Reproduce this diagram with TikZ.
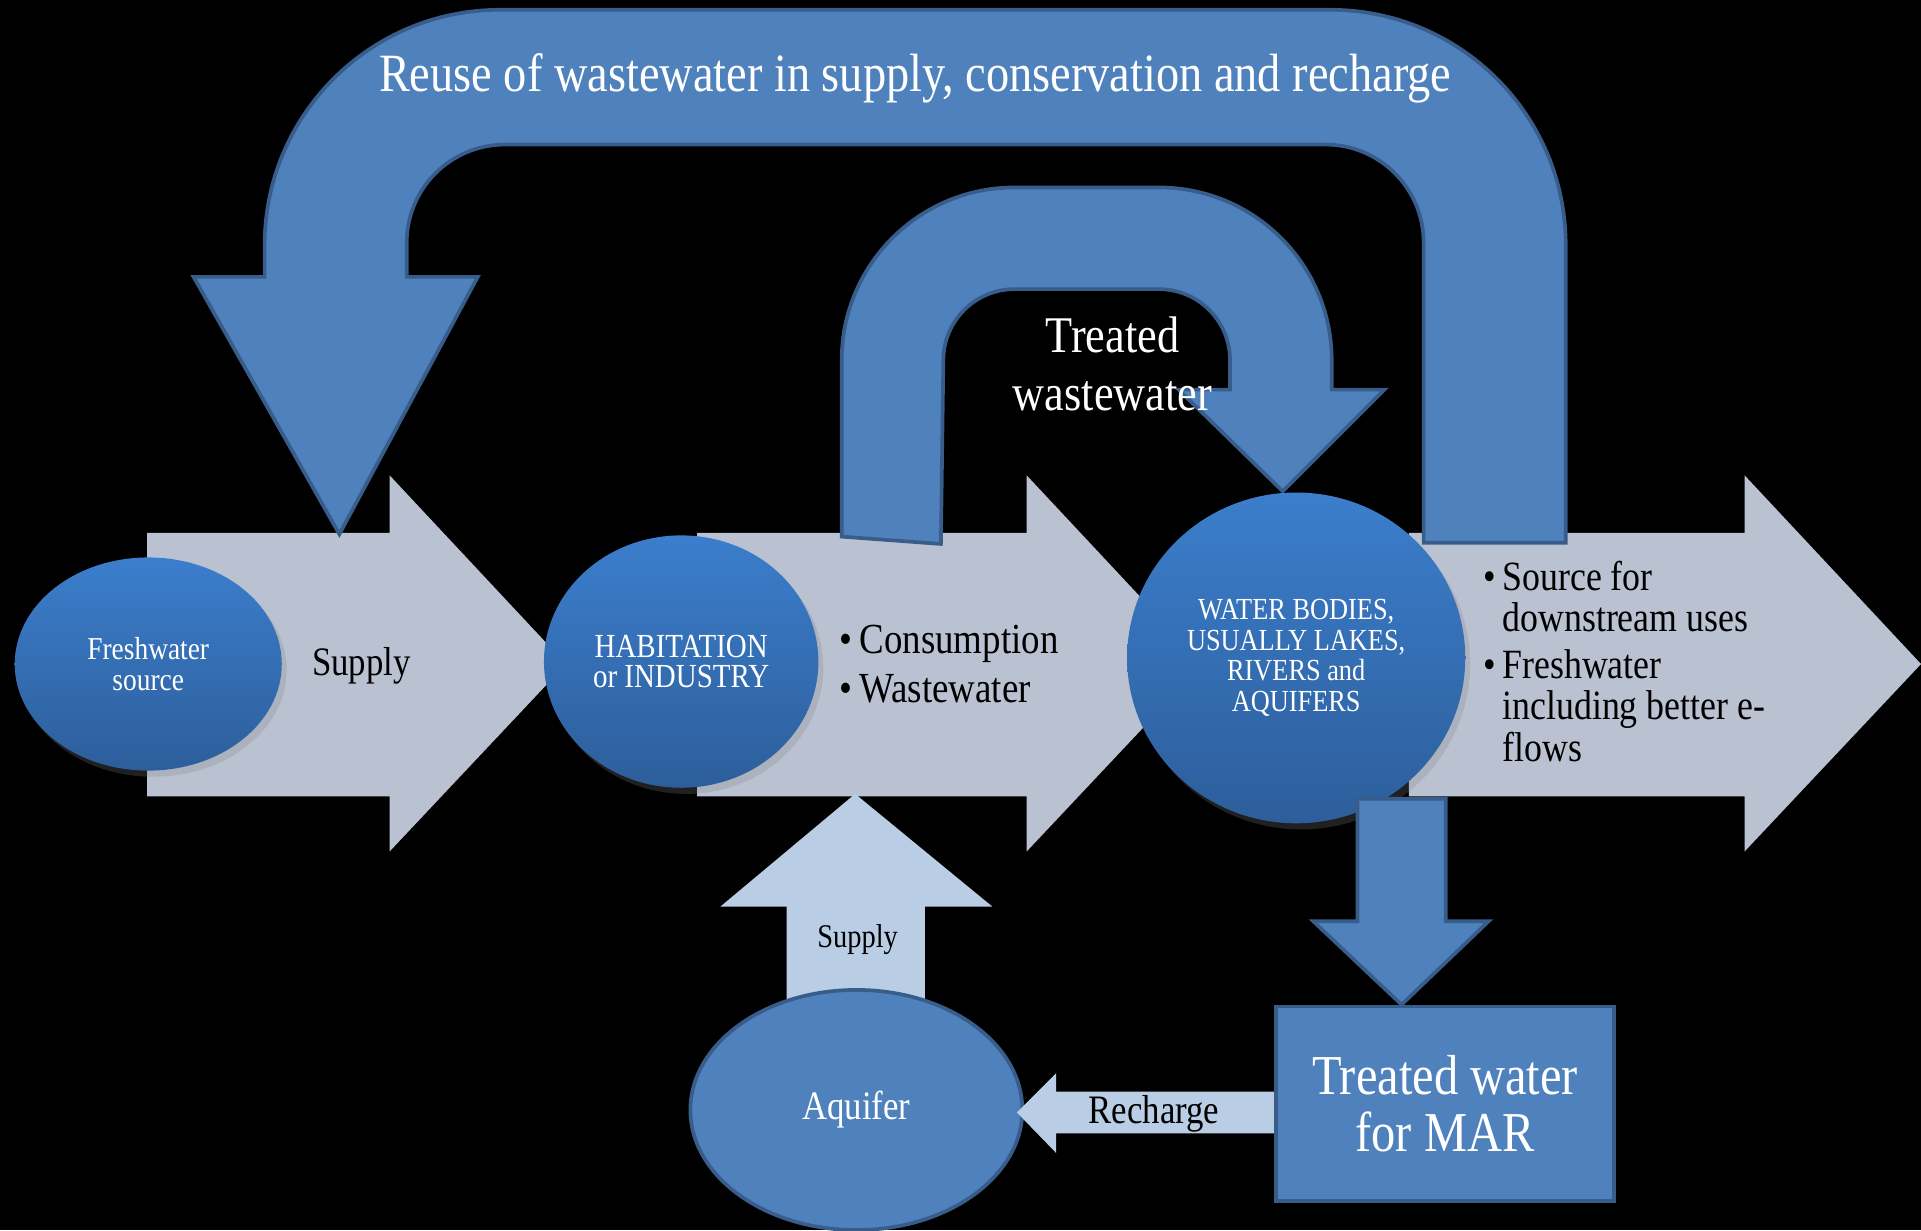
\documentclass[tikz,border=0pt]{standalone}
\usepackage{fontspec}
\setmainfont{Liberation Serif}[FakeStretch=0.86]
\usetikzlibrary{shapes.geometric, shadows}

\definecolor{flowgray}{RGB}{186,194,210}
\definecolor{arrowblue}{RGB}{79,129,189}
\definecolor{arrowedge}{RGB}{56,93,138}
\definecolor{paleblue}{RGB}{185,205,229}
\definecolor{bubtop}{RGB}{59,126,204}
\definecolor{bubbot}{RGB}{45,94,155}

\newcommand{\fs}[2]{\fontsize{#1}{#2}\selectfont}

\begin{document}
\begin{tikzpicture}[
    x=1pt, y=-1pt,
    flow/.style={fill=flowgray},
    bluearrow/.style={fill=arrowblue, draw=arrowedge, line width=3pt, line join=miter},
    palearrow/.style={fill=paleblue},
    bubble/.style={ellipse, inner sep=0pt, top color=bubtop, bottom color=bubbot, text=white, align=center,
        drop shadow={shadow xshift=4pt, shadow yshift=-5pt, opacity=0.25}},
    wlabel/.style={text=white, align=center},
    blabel/.style={text=black, align=center}
]
    % Background
    \fill[black] (0,0) rectangle (1568,1004);
    \useasboundingbox (0,0) rectangle (1568,1004);

    % Main flow arrows
    \fill[flow] (120,435) -- (318,435) -- (318,388) -- (462,542) -- (318,695) -- (318,650) -- (120,650) -- cycle;
    \fill[flow] (569,435) -- (838,435) -- (838,388) -- (982,542) -- (838,695) -- (838,650) -- (569,650) -- cycle;
    \fill[flow] (1150,435) -- (1424,435) -- (1424,388) -- (1568,542) -- (1424,695) -- (1424,650) -- (1150,650) -- cycle;

    % Reuse loop
    \draw[bluearrow] (1278,443) -- (1278,200) arc[start angle=0, end angle=-90, radius=192]
        -- (408,8) arc[start angle=-90, end angle=-180, radius=192]
        -- (216,226) -- (158,226) -- (277,436) -- (390,226) -- (332,226)
        -- (332,198) arc[start angle=180, end angle=270, radius=80]
        -- (1082,118) arc[start angle=270, end angle=360, radius=80]
        -- (1162,443) -- cycle;

    % Treated wastewater loop
    \draw[bluearrow] (687,438) -- (687,294) arc[start angle=180, end angle=270, radius=141]
        -- (946,153) arc[start angle=270, end angle=360, radius=141]
        -- (1087,318) -- (1130,318) -- (1047,401) -- (962,318) -- (1004,318)
        -- (1004,294) arc[start angle=0, end angle=-90, radius=58]
        -- (828,236) arc[start angle=-90, end angle=-180, radius=58]
        -- (768,444) -- cycle;

    % Supply from aquifer
    \fill[palearrow] (642,830) -- (642,740) -- (588,740) -- (698,648) -- (810,740) -- (755,740) -- (755,830) -- cycle;

    % Bubbles
    \node[bubble, minimum width=218pt, minimum height=174pt, font=\fs{26}{25}] (fresh) at (121,542) {Freshwater\\source};
    \node[bubble, minimum width=224pt, minimum height=206pt, font=\fs{27.5}{25}] (habit) at (556,540) {HABITATION\\or INDUSTRY};
    \node[bubble, minimum width=276pt, minimum height=270pt, font=\fs{25}{25}] (water) at (1058,537) {WATER BODIES,\\USUALLY LAKES,\\RIVERS and\\AQUIFERS};

    % Down to MAR
    \draw[bluearrow] (1108,652) -- (1180,652) -- (1180,752) -- (1215,752) -- (1144,820) -- (1072,752) -- (1108,752) -- cycle;

    % Aquifer and MAR
    \node[ellipse, fill=arrowblue, draw=arrowedge, line width=3pt, minimum width=271pt, minimum height=196pt,
        text=white, font=\fs{33}{36}] (aquifer) at (699,906) {Aquifer};
    \fill[palearrow] (1040,891) -- (862,891) -- (862,876) -- (830,908) -- (862,941) -- (862,925) -- (1040,925) -- cycle;
    \node[draw=arrowedge, fill=arrowblue, line width=3pt, minimum width=276pt, minimum height=159pt,
        text=white, align=center, font=\fs{46}{46}] (mar) at (1179.5,901) {Treated water\\for MAR};

    % Labels
    \node[wlabel, font=\fs{44}{44}, anchor=base] (reuse) at (747,75) {Reuse of wastewater in supply, conservation and recharge};
    \node[wlabel, font=\fs{42}{48}] (treated) at (908,297) {Treated\\wastewater};
    \node[blabel, font=\fs{33}{36}, anchor=base] (supplymain) at (295,551) {Supply};
    \node[blabel, font=\fs{27}{30}, anchor=base] (supplyaq) at (700,773) {Supply};
    \node[blabel, font=\fs{33}{36}, anchor=base] (recharge) at (942,917) {Recharge};
    \node[anchor=base west, inner sep=0pt, font=\fs{35}{40}] (uses) at (685,533)
        {\begin{tabular}[t]{@{}l@{\hspace{6pt}}l@{}}\textbullet & Consumption\\ \textbullet & Wastewater\end{tabular}};
    \node[anchor=base west, inner sep=0pt, font=\fs{34}{33}] (down) at (1211,482)
        {\begin{tabular}[t]{@{}l@{\hspace{5pt}}l@{}}\textbullet & Source for\\ & downstream uses\\[5pt]
         \textbullet & Freshwater\\ & including better e-\\ & flows\end{tabular}};
\end{tikzpicture}
\end{document}
